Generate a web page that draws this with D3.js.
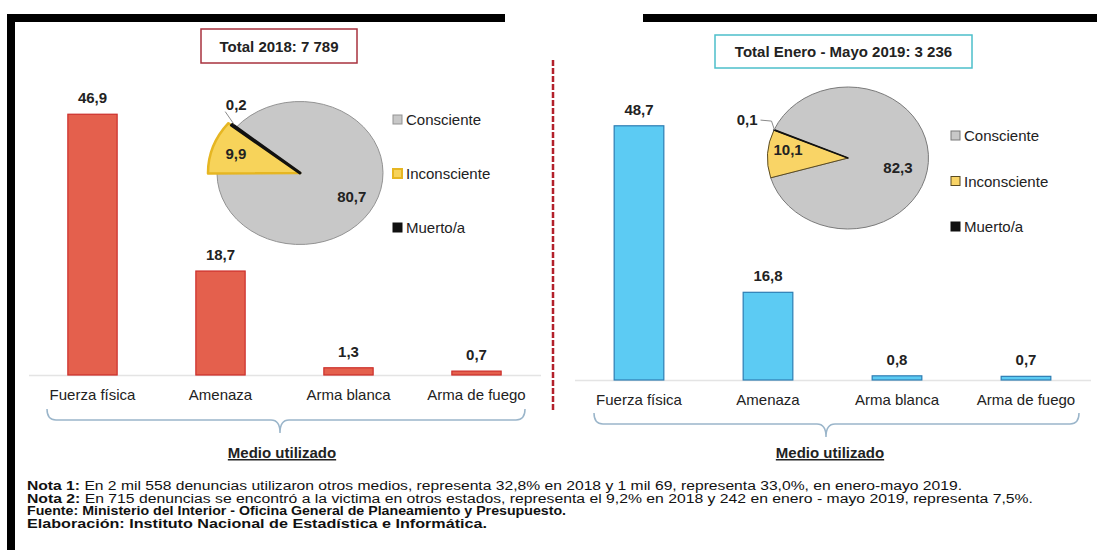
<!doctype html>
<html lang="es">
  <head>
    <meta charset="utf-8">
    <title>Medio utilizado</title>
    <style>
      html, body { margin: 0; padding: 0; background: #fff; }
      svg { display: block; font-family: "Liberation Sans", Arial, sans-serif; }
    </style>
  </head>
  <body>
    <script src="https://cdn.jsdelivr.net/npm/d3@7/dist/d3.min.js"></script>
    <script>

    // ---- data ----
    const categories = ["Fuerza física", "Amenaza", "Arma blanca", "Arma de fuego"];
    const bars2018   = [46.9, 18.7, 1.3, 0.7];
    const bars2019   = [48.7, 16.8, 0.8, 0.7];

    const pieLabels  = ["Consciente", "Inconsciente", "Muerto/a"];
    const pie2018    = [80.7, 9.9, 0.2];
    const pie2019    = [82.3, 10.1, 0.1];

    const titles     = ["Total 2018: 7 789", "Total Enero - Mayo 2019: 3 236"];
    const axisTitle  = "Medio utilizado";

    const noteHeads  = ["Nota 1:", "Nota 2:", "Fuente:", "Elaboración:"];
    const noteBodies = [
      " En 2 mil 558 denuncias utilizaron otros medios, representa 32,8% en 2018 y 1 mil 69, representa 33,0%, en enero-mayo 2019.",
      " En 715 denuncias se encontró a la victima en otros estados, representa el 9,2% en 2018 y 242 en enero - mayo 2019, representa 7,5%.",
      " Ministerio del Interior - Oficina General de Planeamiento y Presupuesto.",
      " Instituto Nacional de Estadística e Informática."
    ];

    const width = 1097, height = 550;

    const svg = d3.select("body").append("svg")
        .attr("width", width)
        .attr("height", height);

    // comma decimal, like the source
    const fmt = d3.formatLocale({decimal: ",", thousands: " ", grouping: [3], currency: ["", ""]}).format(".1f");

    // frame pieces
    svg.append("rect").attr("x", 7).attr("y", 14).attr("width", 8).attr("height", 536).attr("fill", "#000");
    svg.append("rect").attr("x", 7).attr("y", 14).attr("width", 498).attr("height", 8).attr("fill", "#000");
    svg.append("rect").attr("x", 643).attr("y", 14).attr("width", 454).attr("height", 8).attr("fill", "#000");

    // red dashed divider
    svg.append("line")
      .attr("x1", 553).attr("x2", 553).attr("y1", 60).attr("y2", 410)
      .attr("stroke", "#b3202b").attr("stroke-width", 2.5)
      .attr("stroke-dasharray", "6,2");

    const panels = [
      {
        bars: bars2018, pie: pie2018, title: titles[0],
        range: [28.5, 540.5], base: 375, top: 97,
        barFill: "#e4604d", barStroke: "#cc2e2a",
        box: {x: 201, y: 29, w: 156, h: 34, stroke: "#a8323e", ty: 52},
        pieC: {cx: 300, cy: 173, rx: 83, ry: 71.5, start: -50.3},
        pieFill: ["#c8c8c8", "#f7d35a", "#111"],
        pieStroke: ["#939393", "#e6b622", "#111"],
        pieStrokeW: [1, 2.5, 3],
        pieR: [83, 92, 88],
        yellowSw: {fill: "#f7d35a", stroke: "#e6b622", w: 2},
        legend: {x: 393, y: 125, gap: 54},
        brace: {x0: 47, x1: 525, xm: 280, yTop: 409, yMid: 420, yTip: 433},
        medio: {x: 282, y: 458},
        lbl: {big: [55, 13], mid: [68, 5], small: [85, -9, -15]}
      },
      {
        bars: bars2019, pie: pie2019, title: titles[1],
        range: [574.5, 1090.5], base: 380, top: 119,
        barFill: "#5ccbf3", barStroke: "#2d7db3",
        box: {x: 715, y: 35, w: 257, h: 33, stroke: "#4cbfca", ty: 57},
        pieC: {cx: 848, cy: 158, rx: 80.5, ry: 71, start: -66.5},
        pieFill: ["#c8c8c8", "#f9d466", "#111"],
        pieStroke: ["#7a7a7a", "#5a4b22", "#111"],
        pieStrokeW: [1, 1, 1.5],
        pieR: [80.5, 80.5, 80.5],
        yellowSw: {fill: "#f9d466", stroke: "#5a4b22", w: 1},
        legend: {x: 951, y: 141, gap: 45.5},
        brace: {x0: 594, x1: 1079, xm: 826, yTop: 413, yMid: 424, yTip: 437},
        medio: {x: 830, y: 458},
        lbl: {big: [50, 12], mid: [60, 0], small: [80, -3, -9]}
      }
    ];

    panels.forEach(function(p){

      const g = svg.append("g");

      // title box
      g.append("rect")
        .attr("x", p.box.x).attr("y", p.box.y)
        .attr("width", p.box.w).attr("height", p.box.h)
        .attr("fill", "#fff")
        .attr("stroke", p.box.stroke).attr("stroke-width", 1.5);

      g.append("text")
        .attr("x", p.box.x + p.box.w / 2).attr("y", p.box.ty)
        .attr("text-anchor", "middle")
        .style("font-size", "15px").style("font-weight", "bold")
        .attr("fill", "#222")
        .text(p.title);

      // bars
      const x = d3.scaleBand()
        .domain(categories)
        .range(p.range)
        .paddingInner(0.615)
        .paddingOuter(0.3075);

      const y = d3.scaleLinear()
        .domain([0, 50])
        .range([p.base, p.top]);

      const axis = g.append("g")
        .attr("transform", `translate(0,${p.base})`)
        .call(d3.axisBottom(x).tickSize(0).tickPadding(14));

      axis.select(".domain").attr("stroke", "#e4e4e4").attr("stroke-width", 1.5);
      axis.selectAll("text")
        .style("font-size", "15px")
        .style("font-family", "'Liberation Sans', Arial, sans-serif")
        .attr("fill", "#222");

      g.selectAll("rect.bar")
        .data(p.bars)
        .join("rect")
        .attr("class", "bar")
        .attr("x", (d, i) => x(categories[i]))
        .attr("y", d => y(d))
        .attr("width", x.bandwidth())
        .attr("height", d => p.base - y(d))
        .attr("fill", p.barFill)
        .attr("stroke", p.barStroke)
        .attr("stroke-width", 1.2);

      g.selectAll("text.val")
        .data(p.bars)
        .join("text")
        .attr("class", "val")
        .attr("x", (d, i) => x(categories[i]) + x.bandwidth() / 2)
        .attr("y", d => y(d) - 11)
        .attr("text-anchor", "middle")
        .style("font-size", "15px").style("font-weight", "bold")
        .attr("fill", "#222")
        .text(d => fmt(d));

      // brace under the categories
      const b = p.brace;
      g.append("path")
        .attr("d", `M${b.x0},${b.yTop} Q${b.x0},${b.yMid} ${b.x0 + 9},${b.yMid} L${b.xm - 9},${b.yMid} ` +
                   `Q${b.xm},${b.yMid} ${b.xm},${b.yTip} Q${b.xm},${b.yMid} ${b.xm + 9},${b.yMid} ` +
                   `L${b.x1 - 9},${b.yMid} Q${b.x1},${b.yMid} ${b.x1},${b.yTop}`)
        .attr("fill", "none")
        .attr("stroke", "#9ab5ca")
        .attr("stroke-width", 1.5);

      g.append("text")
        .attr("x", p.medio.x).attr("y", p.medio.y)
        .attr("text-anchor", "middle")
        .style("font-size", "15px").style("font-weight", "bold")
        .style("text-decoration", "underline")
        .attr("fill", "#222")
        .text(axisTitle);

      // pie (elliptical, like the tilted excel pie)
      const c = p.pieC;
      const sy = c.ry / c.rx;
      const a0 = c.start * Math.PI / 180;

      const pie = d3.pie().sort(null).startAngle(a0).endAngle(a0 + 2 * Math.PI);
      const slices = pie(p.pie);

      const pg = g.append("g")
        .attr("transform", `translate(${c.cx},${c.cy}) scale(1,${sy})`);

      pg.selectAll("path")
        .data(slices)
        .join("path")
        .attr("d", (d, i) => d3.arc().innerRadius(0).outerRadius(p.pieR[i])(d))
        .attr("fill", (d, i) => p.pieFill[i])
        .attr("stroke", (d, i) => p.pieStroke[i])
        .attr("stroke-width", (d, i) => p.pieStrokeW[i])
        .attr("stroke-linejoin", "round")
        .attr("vector-effect", "non-scaling-stroke");

      // helper: point on the ellipse at angle a, radius r
      function pt(a, r){
        return [c.cx + Math.sin(a) * r, c.cy - Math.cos(a) * r * sy];
      }

      // big and middle slice labels
      [0, 1].forEach(function(i){
        const s = slices[i];
        const mid = (s.startAngle + s.endAngle) / 2;
        const cfg = i === 0 ? p.lbl.big : p.lbl.mid;
        const q = pt(mid, cfg[0]);
        g.append("text")
          .attr("x", q[0]).attr("y", q[1] + cfg[1])
          .attr("text-anchor", "middle")
          .style("font-size", "15px").style("font-weight", "bold")
          .attr("fill", "#222")
          .text(fmt(s.data));
      });

      // small slice label with leader
      const s2 = slices[2];
      const e = pt((s2.startAngle + s2.endAngle) / 2, p.lbl.small[0]);
      const lx = e[0] + p.lbl.small[1], ly = e[1] + p.lbl.small[2];
      if (p === panels[0]) {
        g.append("path")
          .attr("d", `M${e[0]},${e[1] - 2} L${lx},${ly}`)
          .attr("stroke", "#8a8a8a").attr("fill", "none").attr("stroke-width", 1);
        g.append("text")
          .attr("x", lx + 11).attr("y", ly - 2)
          .attr("text-anchor", "middle")
          .style("font-size", "15px").style("font-weight", "bold")
          .attr("fill", "#222")
          .text(fmt(s2.data));
      } else {
        g.append("path")
          .attr("d", `M${e[0]},${e[1]} L${lx},${ly} L${lx - 11},${ly - 1}`)
          .attr("stroke", "#8a8a8a").attr("fill", "none").attr("stroke-width", 1);
        g.append("text")
          .attr("x", lx - 14).attr("y", ly + 4)
          .attr("text-anchor", "end")
          .style("font-size", "15px").style("font-weight", "bold")
          .attr("fill", "#222")
          .text(fmt(s2.data));
      }

      // legend
      const lg = g.append("g");
      const swFill   = [p.pieFill[0], p.yellowSw.fill, "#111"];
      const swStroke = [p.pieStroke[0], p.yellowSw.stroke, "#111"];
      const swW      = [1, p.yellowSw.w, 1];

      lg.selectAll("rect")
        .data(pieLabels)
        .join("rect")
        .attr("x", p.legend.x)
        .attr("y", (d, i) => p.legend.y + i * p.legend.gap - 10)
        .attr("width", 9).attr("height", 9)
        .attr("fill", (d, i) => swFill[i])
        .attr("stroke", (d, i) => swStroke[i])
        .attr("stroke-width", (d, i) => swW[i]);

      lg.selectAll("text")
        .data(pieLabels)
        .join("text")
        .attr("x", p.legend.x + 13)
        .attr("y", (d, i) => p.legend.y + i * p.legend.gap)
        .style("font-size", "15px")
        .attr("fill", "#222")
        .text(d => d);
    });

    // notes at the bottom
    const noteWidths = [935, 1006, 539, 460];
    const notes = svg.append("g");

    noteHeads.forEach(function(h, i){
      const t = notes.append("text")
        .attr("x", 27)
        .attr("y", 490 + i * 12.5)
        .attr("textLength", noteWidths[i])
        .attr("lengthAdjust", "spacingAndGlyphs")
        .style("font-size", "12px")
        .attr("fill", "#111");
      t.append("tspan").style("font-weight", "bold").text(h);
      t.append("tspan").style("font-weight", i >= 2 ? "bold" : "normal").text(noteBodies[i]);
    });

    </script>
  </body>
</html>
